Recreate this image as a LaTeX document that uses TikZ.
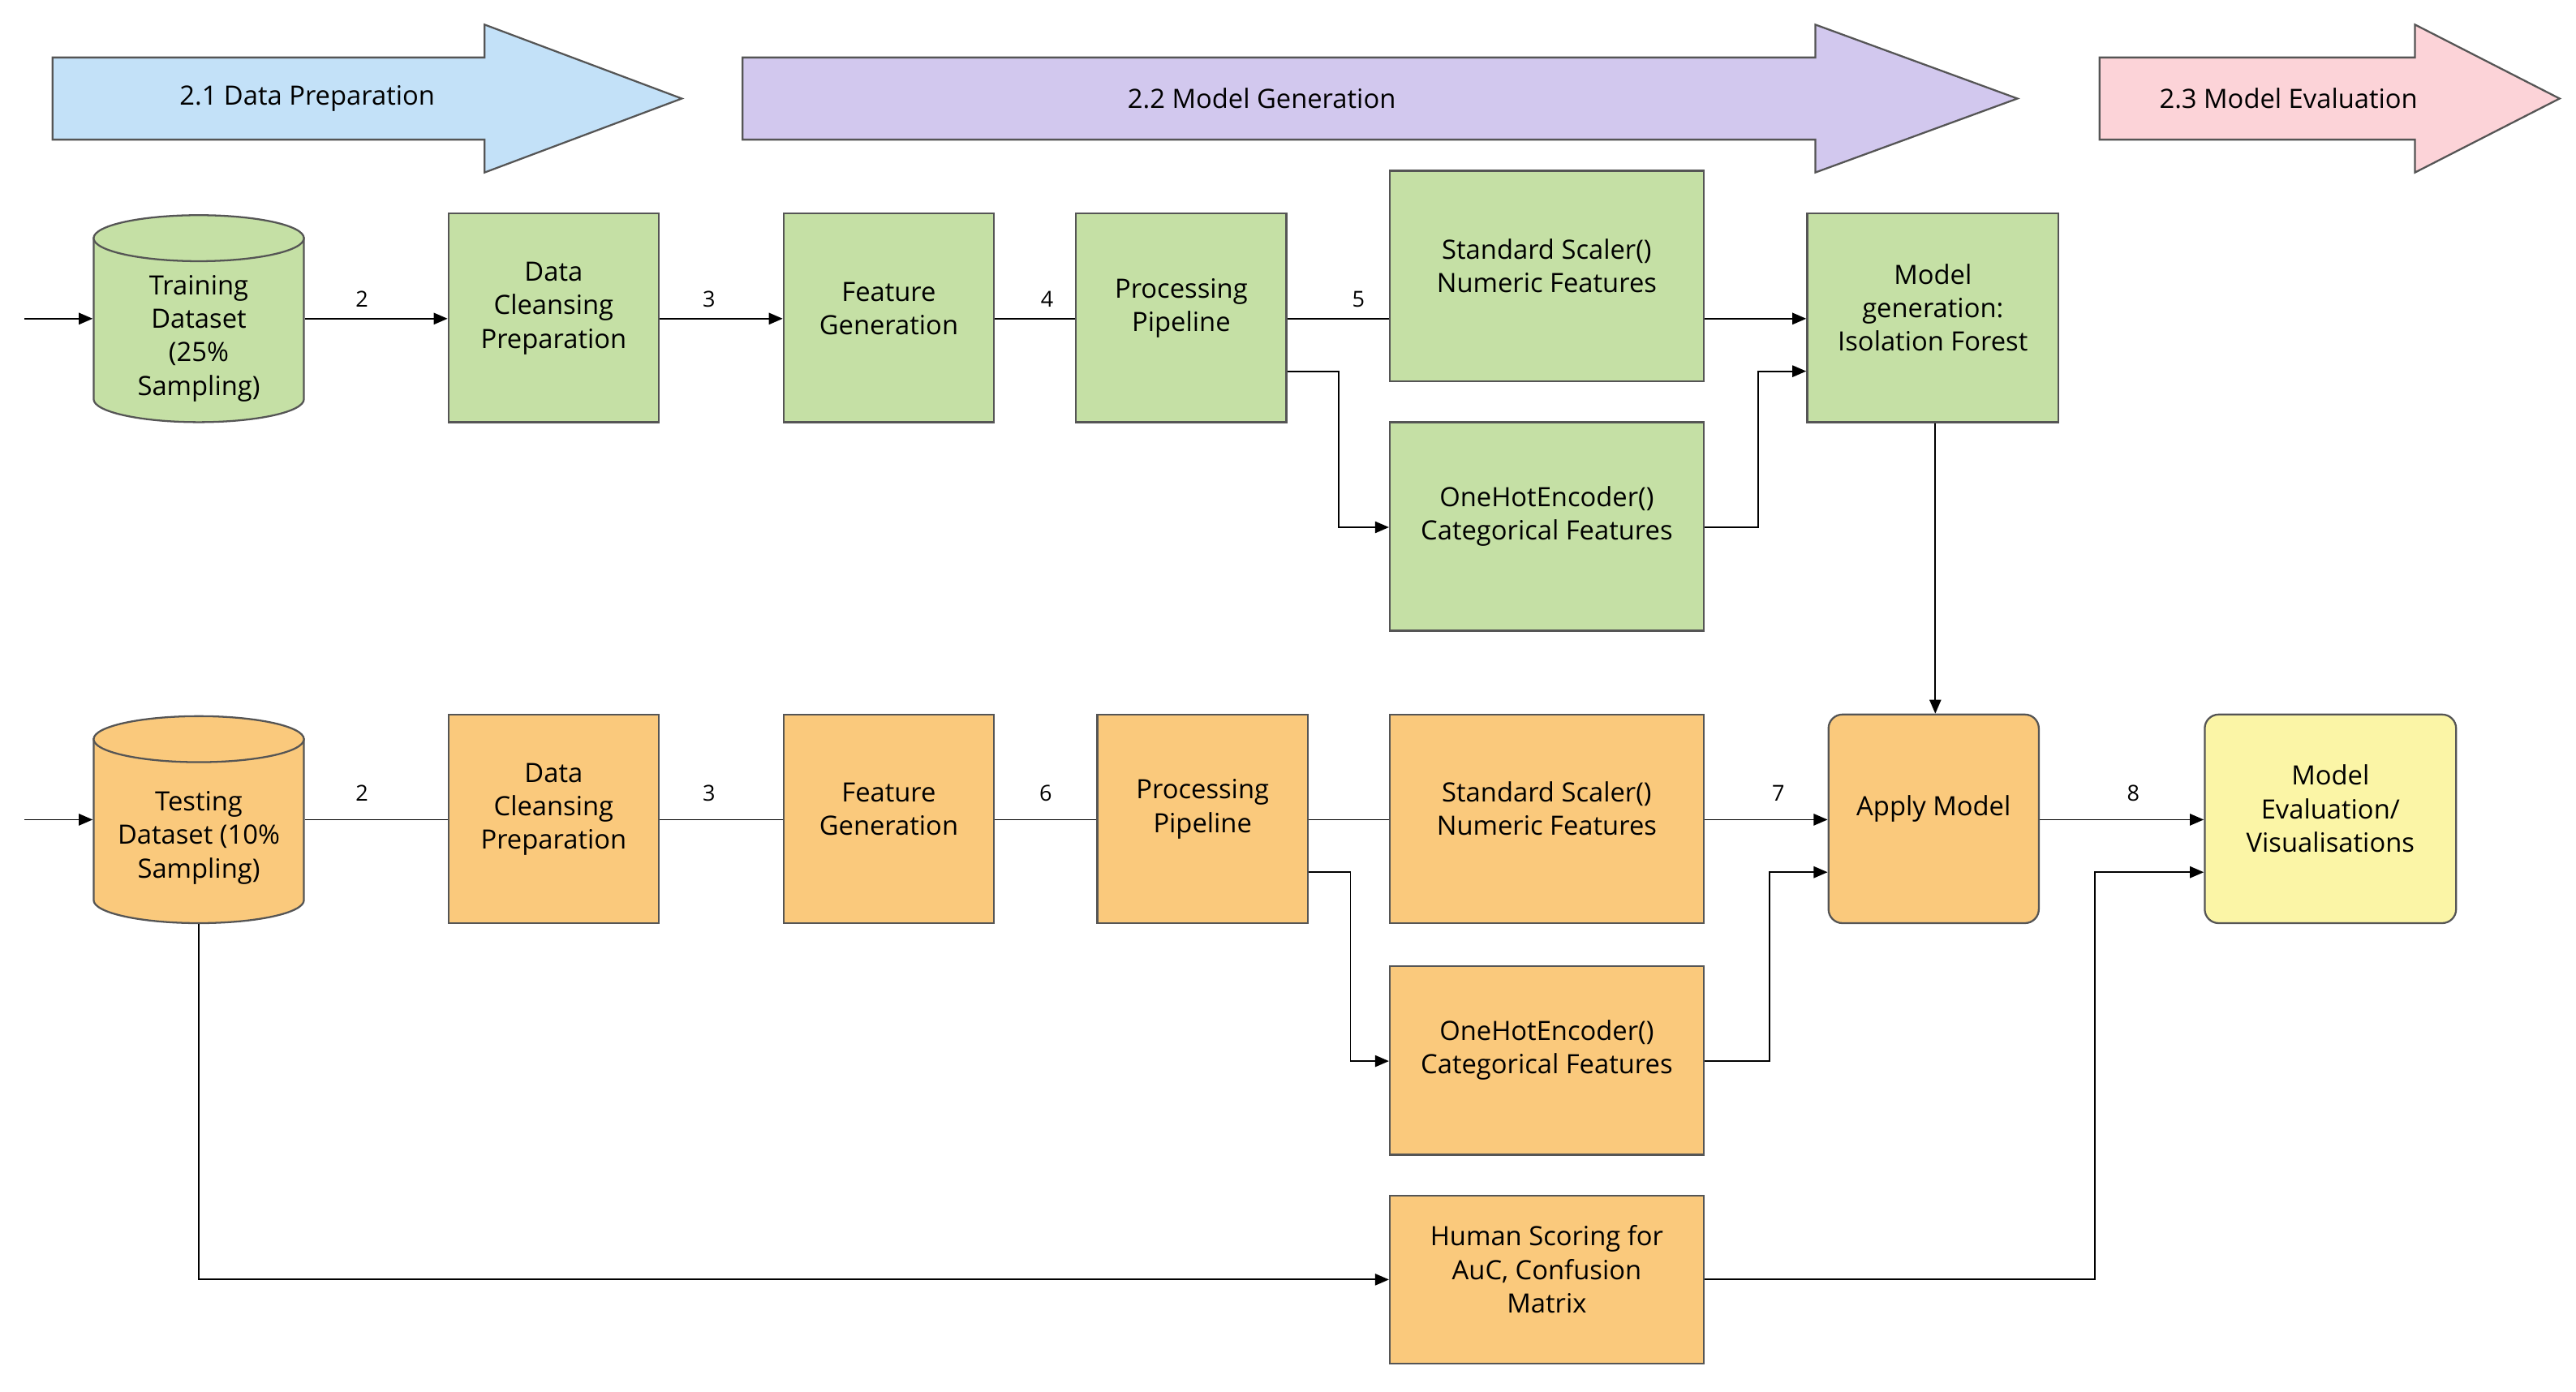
\documentclass[tikz,border=0pt]{standalone}
\usepackage{fontspec}
\setmainfont{Open Sans}
\usetikzlibrary{fit,arrows.meta}
\definecolor{bl}{HTML}{C3E1F8}
\definecolor{pu}{HTML}{D2C8EE}
\definecolor{pk}{HTML}{FCD3D8}
\definecolor{gr}{HTML}{C5E0A5}
\definecolor{or}{HTML}{FAC97C}
\definecolor{ye}{HTML}{FBF5A6}
\definecolor{bd}{HTML}{555555}
\begin{document}
\begin{tikzpicture}[x=0.05cm,y=-0.05cm,
 box/.style={draw=bd,line width=1.6pt,inner sep=0pt,align=center,font=\fontsize{23}{29}\selectfont},
 g/.style={box,fill=gr}, o/.style={box,fill=or},
 ln/.style={line width=1.3pt},
 ar/.style={ln,-{Triangle[length=12pt,width=10pt]}},
 lab/.style={font=\fontsize{19}{22}\selectfont},
 big/.style={draw=bd,line width=1.6pt},
 ph/.style={font=\fontsize{23}{28}\selectfont}]
\useasboundingbox (0,0) rectangle (1568,847);
% phase arrows
\draw[big,fill=bl] (32,35)--(295,35)--(295,15)--(415,60)--(295,105)--(295,85)--(32,85)--cycle;
\node[ph] (p1) at (187,60) {2.1 Data Preparation};
\draw[big,fill=pu] (452,35)--(1105,35)--(1105,15)--(1228,60)--(1105,105)--(1105,85)--(452,85)--cycle;
\node[ph] (p2) at (768,60) {2.2 Model Generation};
\draw[big,fill=pk] (1278,35)--(1470,35)--(1470,15)--(1558,60)--(1470,105)--(1470,85)--(1278,85)--cycle;
\node[ph] (p3) at (1393,60) {2.3 Model Evaluation};
% cylinders
\draw[big,fill=gr] (57,145)--(57,243) arc[start angle=180,end angle=0,x radius=64,y radius=14]--(185,145)--cycle;
\draw[big,fill=gr] (121,145) ellipse[x radius=64,y radius=14];
\node[box,draw=none,fit={(57,130)(185,257)}] (tr) {};
\node[box,draw=none] at (121,206) {Training\\Dataset\\(25\%\\Sampling)};
\draw[big,fill=or] (57,450)--(57,548) arc[start angle=180,end angle=0,x radius=64,y radius=14]--(185,450)--cycle;
\draw[big,fill=or] (121,450) ellipse[x radius=64,y radius=14];
\node[box,draw=none,fit={(57,435)(185,562)}] (te) {};
\node[box,draw=none] at (121,510) {Testing\\Dataset (10\%\\Sampling)};
% row 1
\node[g,fit={(273,130)(401,257)}] (dc1) {Data\\Cleansing\\Preparation};
\node[g,fit={(477,130)(605,257)}] (fg1) {Feature\\Generation};
\node[g,fit={(655,130)(783,257)}] (pp1) {Processing\\Pipeline};
\node[g,fit={(846,104)(1037,232)}] (ss1) {Standard Scaler()\\Numeric Features};
\node[g,fit={(846,257)(1037,384)}] (oh1) {OneHotEncoder()\\Categorical Features};
\node[g,fit={(1100,130)(1253,257)}] (mg) {Model\\generation:\\Isolation Forest};
% row 2
\node[o,fit={(273,435)(401,562)}] (dc2) {Data\\Cleansing\\Preparation};
\node[o,fit={(477,435)(605,562)}] (fg2) {Feature\\Generation};
\node[o,fit={(668,435)(796,562)}] (pp2) {Processing\\Pipeline};
\node[o,fit={(846,435)(1037,562)}] (ss2) {Standard Scaler()\\Numeric Features};
\node[o,fit={(846,588)(1037,703)}] (oh2) {OneHotEncoder()\\Categorical Features};
\node[o,rounded corners=12pt,fit={(1113,435)(1241,562)}] (am) {Apply Model};
\node[box,fill=ye,rounded corners=12pt,fit={(1342,435)(1495,562)}] (ev) {Model\\Evaluation/\\Visualisations};
\node[o,fit={(846,728)(1037,830)}] (hs) {Human Scoring for\\AuC, Confusion\\Matrix};
% connectors row 1
\coordinate (s1) at (15,194); \coordinate (s2) at (15,499);
\draw[ar] (s1)--(tr.west|-s1);
\draw[ar] (tr.east|-s1)--node[lab,above=6pt,pos=0.4]{2}(dc1.west|-s1);
\draw[ar] (dc1.east|-s1)--node[lab,above=6pt,pos=0.4]{3}(fg1.west|-s1);
\draw[ln] (fg1.east|-s1)--node[lab,above=6pt,pos=0.65]{4}(pp1.west|-s1);
\draw[ln] (pp1.east|-s1)--node[lab,above=6pt,pos=0.7]{5}(ss1.west|-s1);
\draw[ar] (ss1.east|-s1)--(mg.west|-s1);
\draw[ar] (pp1.east|-0,226)-|(815,321)--(oh1.west|-0,321);
\draw[ar] (oh1.east|-0,321)-|(1070,226)--(mg.west|-0,226);
\draw[ar] (mg.south-|1178,0)--(am.north-|1178,0);
% row 2
\draw[ar] (s2)--(te.west|-s2);
\draw[ln] (te.east|-s2)--node[lab,above=12pt,pos=0.4]{2}(dc2.west|-s2);
\draw[ln] (dc2.east|-s2)--node[lab,above=12pt,pos=0.4]{3}(fg2.west|-s2);
\draw[ln] (fg2.east|-s2)--node[lab,above=12pt,pos=0.5]{6}(pp2.west|-s2);
\draw[ln] (pp2.east|-s2)--(ss2.west|-s2);
\draw[ar] (ss2.east|-s2)--node[lab,above=12pt,pos=0.6]{7}(am.west|-s2);
\draw[ar] (am.east|-s2)--node[lab,above=12pt,pos=0.57]{8}(ev.west|-s2);
\draw[ar] (pp2.east|-0,531)-|(822,646)--(oh2.west|-0,646);
\draw[ar] (oh2.east|-0,646)-|(1077,531)--(am.west|-0,531);
\draw[ar] (te.south-|121,0)--(121,779)--(hs.west|-0,779);
\draw[ar] (hs.east|-0,779)-|(1275,531)--(ev.west|-0,531);
\end{tikzpicture}
\end{document}
